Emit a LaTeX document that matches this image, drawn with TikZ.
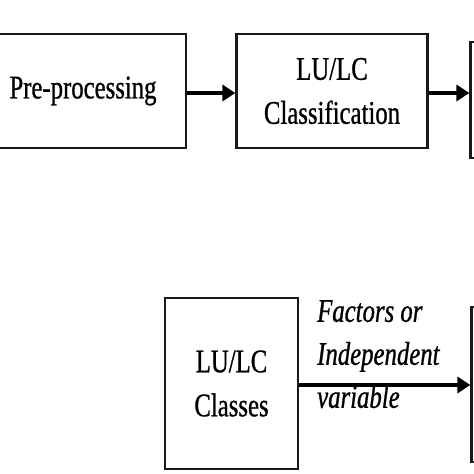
\documentclass[tikz,border=0pt]{standalone}
\usepackage{fontspec}
\setmainfont[FakeStretch=0.75,FakeBold=0.8]{Liberation Serif}
\usetikzlibrary{arrows.meta}
\tikzset{
  blockbox/.style={draw=black!90, line width=2.2bp, inner sep=0pt, align=center,
    font=\fontsize{33bp}{44bp}\selectfont},
  flow/.style={line width=3.2bp, -{Triangle[length=13bp,width=16bp]}},
  lbl/.style={inner sep=0pt, align=left, font=\fontsize{33bp}{43bp}\selectfont\itshape}
}
\begin{document}
\begin{tikzpicture}[x=1bp,y=-1bp]
\useasboundingbox (0,0) rectangle (474,474);
\node[blockbox, minimum width=206bp, minimum height=114bp] (b1) at (83,91) {Pre-processing};
\node[blockbox, minimum width=191bp, minimum height=114bp] (b2) at (332,91) {LU/LC\\Classification};
\node[blockbox, minimum width=100bp, minimum height=116bp] (b3) at (520.5,100) {};
\node[blockbox, minimum width=133bp, minimum height=171bp] (b4) at (231.5,383.5) {LU/LC\\Classes};
\node[blockbox, minimum width=100bp, minimum height=155bp] (b5) at (521.5,384.5) {};
\draw[flow] ([yshift=-2bp]b1.east) -- ([yshift=-2bp]b1.east -| b2.west);
\draw[flow] ([yshift=-2bp]b2.east) -- ([yshift=-2bp]b2.east -| b3.west);
\draw[flow] ([yshift=-1.5bp]b4.east) -- ([yshift=-1.5bp]b4.east -| b5.west);
\node[lbl, anchor=north west] (fl) at (317,300) {Factors or\\Independent\\variable};
\end{tikzpicture}
\end{document}
